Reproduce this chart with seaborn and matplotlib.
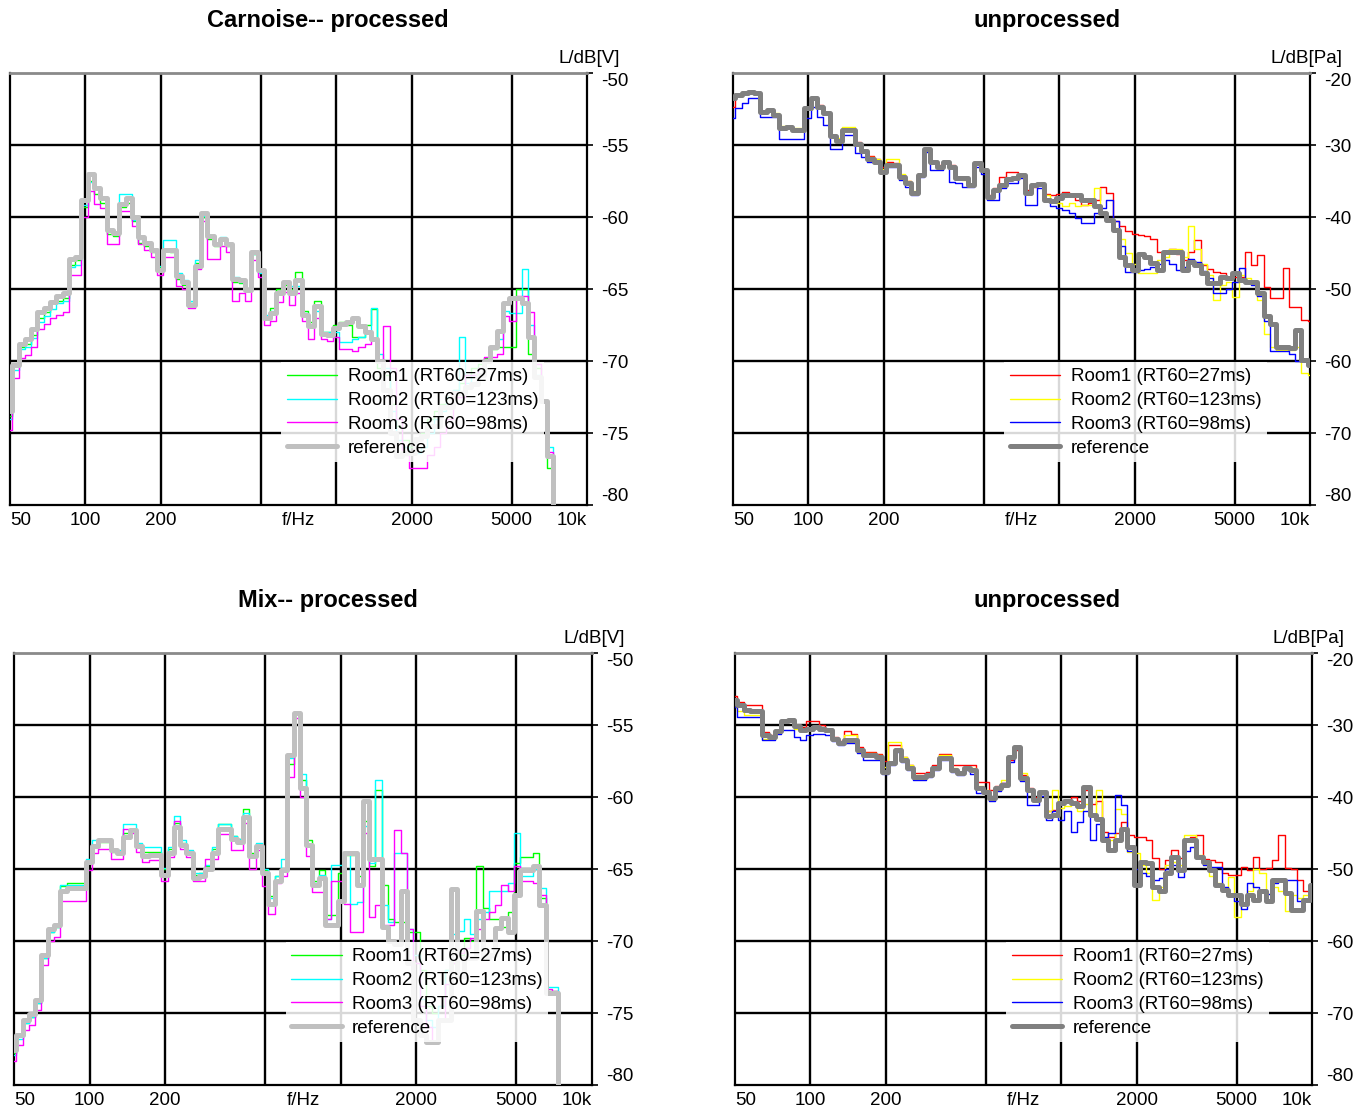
import numpy as np
import matplotlib
matplotlib.use("Agg")
import matplotlib.pyplot as plt
import matplotlib.ticker as mticker
import seaborn as sns

# ---------------------------------------------------------------------------
# 1/12-octave band levels (band k centred at 1000*2**(k/12) Hz, k = -52..40)
# ---------------------------------------------------------------------------
legend_labels = ["Room1 (RT60=27ms)", "Room2 (RT60=123ms)", "Room3 (RT60=98ms)", "reference"]
freq_ticks = [50, 100, 200, 707, 2000, 5000, 10000]
freq_tick_labels = ["50", "100", "200", "f/Hz", "2000", "5000", "10k"]

# Carnoise, processed  [dB re 1 V]
carnoise_proc_ref = [
    -73.5, -70.3, -68.8, -68.5, -67.8, -66.6, -66.3, -65.9, -65.5, -65.3,
    -62.9, -62.8, -58.8, -57.0, -58.0, -58.7, -60.9, -61.1, -59.1, -58.7,
    -60.0, -61.4, -61.8, -62.3, -63.7, -62.3, -62.3, -64.1, -64.5, -66.1,
    -63.4, -59.7, -61.3, -61.9, -61.5, -61.9, -64.3, -64.4, -65.1, -62.4,
    -63.7, -67.0, -66.7, -65.3, -64.5, -65.3, -64.4, -66.8, -67.6, -66.2,
    -68.1, -68.2, -67.7, -67.4, -67.3, -67.0, -67.6, -68.0, -68.5, -70.0,
    -72.0, -75.0, -76.6, -76.4, -76.4, -75.4, -75.2, -74.5, -74.5, -73.2,
    -73.2, -72.2, -72.2, -71.8, -71.6, -71.0, -70.0, -69.0, -67.9, -66.0,
    -65.6, -65.6, -66.0, -68.3, -71.1, -72.8, -76.6, -85.0, -85.0, -85.0,
    -85.0, -85.0, -85.0]
carnoise_proc_room1 = [
    -73.8, -70.3, -69.0, -68.8, -68.2, -67.0, -66.6, -66.0, -65.8, -65.6,
    -63.3, -63.0, -59.3, -57.5, -58.4, -59.0, -61.2, -61.3, -59.3, -59.0,
    -60.3, -61.8, -62.0, -62.4, -63.5, -62.2, -62.4, -64.3, -64.7, -66.0,
    -63.2, -60.0, -61.5, -62.0, -61.6, -62.0, -64.5, -64.6, -65.0, -62.6,
    -63.8, -67.0, -66.3, -65.0, -64.7, -65.0, -63.8, -66.5, -67.3, -65.8,
    -68.0, -68.0, -67.5, -67.3, -67.5, -68.3, -68.3, -67.5, -66.4, -70.5,
    -71.0, -73.0, -74.5, -75.5, -76.0, -75.5, -75.0, -74.0, -73.5, -73.0,
    -72.5, -72.0, -71.5, -71.0, -70.5, -70.2, -69.8, -69.2, -69.0, -69.0,
    -69.0, -65.0, -65.0, -69.5, -70.5, -72.8, -77.4, -85.0, -85.0, -85.0,
    -85.0, -85.0, -85.0]
carnoise_proc_room2 = [
    -74.0, -70.6, -69.2, -69.0, -68.4, -67.3, -66.9, -66.4, -66.0, -65.8,
    -63.5, -63.3, -59.2, -57.6, -58.0, -58.6, -61.0, -61.1, -58.4, -58.4,
    -60.2, -61.5, -61.8, -62.2, -63.4, -61.6, -61.6, -63.9, -64.4, -65.8,
    -63.0, -59.9, -61.4, -61.8, -61.4, -61.8, -64.2, -64.5, -65.0, -62.6,
    -63.9, -66.8, -66.5, -65.3, -64.5, -64.8, -64.8, -66.7, -67.6, -66.5,
    -68.0, -68.0, -68.0, -68.7, -68.7, -68.5, -68.3, -68.0, -66.3, -69.5,
    -70.5, -73.5, -75.5, -76.0, -76.4, -76.4, -76.0, -75.0, -74.0, -73.5,
    -72.5, -72.0, -68.3, -71.5, -71.0, -70.5, -70.0, -69.0, -68.5, -66.5,
    -66.7, -66.7, -63.6, -67.5, -71.0, -72.8, -76.0, -85.0, -85.0, -85.0,
    -85.0, -85.0, -85.0]
carnoise_proc_room3 = [
    -74.8, -71.2, -69.8, -69.6, -69.0, -67.8, -67.4, -67.0, -66.8, -66.6,
    -64.0, -64.0, -60.0, -58.2, -59.1, -59.4, -61.9, -61.9, -59.6, -59.6,
    -60.6, -61.9, -62.3, -62.8, -64.0, -62.8, -62.8, -64.8, -65.0, -66.3,
    -63.6, -60.3, -62.9, -62.9, -62.0, -62.4, -65.8, -65.3, -65.8, -63.0,
    -64.2, -67.5, -67.2, -65.9, -65.2, -66.1, -65.3, -67.2, -68.5, -67.0,
    -68.5, -68.6, -68.3, -69.2, -69.2, -69.3, -69.0, -68.8, -68.5, -70.0,
    -67.6, -70.5, -74.0, -76.5, -77.4, -77.4, -77.4, -76.5, -76.0, -75.0,
    -74.0, -72.5, -72.5, -71.0, -71.0, -70.5, -69.7, -69.7, -69.5, -66.9,
    -67.2, -65.5, -65.5, -66.6, -70.2, -72.8, -76.3, -85.0, -85.0, -85.0,
    -85.0, -85.0, -85.0]

# Carnoise, unprocessed  [dB re 1 Pa]
carnoise_raw_ref = [
    -23.5, -23.1, -22.8, -22.6, -22.8, -25.4, -25.1, -25.8, -27.7, -27.5,
    -27.9, -27.9, -24.9, -23.5, -24.7, -25.6, -28.8, -29.5, -27.9, -27.9,
    -29.8, -30.9, -31.9, -32.3, -33.7, -32.8, -32.8, -34.4, -35.3, -36.7,
    -34.2, -30.5, -32.3, -33.0, -32.3, -33.0, -34.6, -34.6, -35.6, -32.5,
    -33.5, -37.2, -36.3, -35.5, -34.7, -34.6, -34.2, -36.7, -35.6, -35.4,
    -37.6, -37.8, -37.3, -37.0, -37.0, -37.0, -37.6, -37.6, -38.5, -39.5,
    -40.4, -41.8, -45.5, -46.7, -47.4, -45.1, -45.5, -46.4, -47.4, -44.8,
    -44.8, -44.8, -47.4, -46.2, -46.7, -47.8, -49.2, -49.2, -48.3, -48.5,
    -47.8, -48.7, -49.0, -49.0, -50.6, -53.8, -54.8, -58.0, -58.0, -58.2,
    -55.7, -59.9, -60.5]
carnoise_raw_room1 = [
    -24.7, -23.1, -22.6, -22.6, -22.8, -25.3, -25.0, -25.8, -27.5, -27.3,
    -27.8, -27.8, -24.9, -23.5, -24.5, -25.5, -28.6, -29.3, -27.6, -27.6,
    -29.6, -30.7, -31.5, -32.0, -33.0, -32.3, -32.5, -34.2, -35.0, -36.5,
    -34.0, -30.5, -32.3, -32.8, -32.2, -32.8, -34.4, -34.6, -35.4, -32.4,
    -33.3, -37.0, -36.0, -34.5, -33.7, -33.8, -34.0, -36.3, -35.8, -35.3,
    -36.8, -37.0, -36.8, -36.5, -37.0, -37.6, -38.3, -38.0, -37.6, -35.8,
    -36.7, -40.5, -41.3, -42.0, -42.3, -42.5, -42.7, -43.0, -44.8, -44.8,
    -44.5, -45.2, -46.0, -44.8, -43.2, -46.6, -47.2, -47.6, -47.8, -48.3,
    -48.3, -48.3, -44.8, -46.6, -45.3, -49.7, -51.3, -51.3, -47.1, -52.5,
    -52.5, -54.3, -54.5]
carnoise_raw_room2 = [
    -23.5, -23.0, -22.8, -22.6, -22.8, -25.4, -25.0, -25.6, -27.4, -27.3,
    -27.6, -27.6, -24.9, -23.6, -24.8, -25.6, -28.6, -29.0, -27.5, -27.5,
    -29.8, -30.8, -31.6, -32.0, -33.4, -31.9, -31.9, -34.0, -35.0, -36.4,
    -34.0, -30.8, -32.3, -33.0, -32.3, -33.0, -34.7, -34.8, -35.4, -32.6,
    -33.5, -37.2, -36.2, -35.5, -34.6, -34.4, -34.3, -36.7, -35.7, -35.6,
    -37.0, -37.8, -38.0, -38.5, -38.0, -38.5, -38.3, -38.3, -36.0, -39.5,
    -40.4, -41.5, -43.0, -45.0, -46.5, -47.8, -47.8, -47.8, -46.0, -45.5,
    -44.4, -44.4, -45.5, -41.3, -44.5, -46.5, -48.0, -51.5, -49.5, -49.0,
    -51.1, -48.0, -48.5, -49.0, -51.5, -56.2, -58.0, -58.5, -58.5, -58.5,
    -58.0, -61.6, -62.0]
carnoise_raw_room3 = [
    -26.3, -24.9, -24.2, -23.5, -23.5, -26.1, -26.1, -26.1, -29.2, -29.2,
    -29.2, -29.2, -26.3, -24.7, -26.1, -27.2, -30.5, -30.5, -28.6, -28.6,
    -31.1, -31.6, -32.3, -32.5, -33.7, -33.0, -33.0, -34.9, -35.8, -36.9,
    -34.4, -31.0, -33.5, -33.5, -32.5, -35.1, -35.3, -35.8, -35.8, -33.0,
    -34.0, -37.6, -37.6, -36.0, -35.3, -35.3, -34.6, -38.3, -38.3, -36.0,
    -37.8, -38.5, -38.8, -39.0, -39.5, -40.2, -40.9, -40.9, -39.5, -38.8,
    -37.6, -40.5, -44.0, -47.6, -47.6, -47.4, -47.2, -47.0, -46.5, -46.0,
    -46.5, -47.4, -47.0, -45.8, -46.3, -47.5, -48.5, -50.6, -50.6, -50.0,
    -49.0, -47.1, -49.0, -49.5, -51.0, -54.5, -58.6, -58.6, -58.6, -59.0,
    -60.0, -60.0, -60.5]

# Mix, processed  [dB re 1 V]
mix_proc_ref = [
    -77.6, -76.5, -75.5, -75.1, -74.1, -71.0, -69.2, -68.9, -66.5, -66.3,
    -66.3, -66.3, -64.5, -63.4, -63.0, -63.0, -63.7, -63.9, -62.8, -62.3,
    -63.4, -64.1, -64.0, -64.0, -65.4, -63.9, -62.1, -63.3, -63.9, -65.6,
    -65.5, -65.0, -63.9, -62.2, -62.2, -62.9, -63.1, -61.4, -64.1, -63.4,
    -65.3, -67.4, -65.8, -65.1, -57.1, -54.2, -59.4, -63.3, -66.1, -65.6,
    -68.9, -68.9, -67.2, -63.9, -63.9, -66.1, -60.3, -64.3, -64.3, -69.0,
    -70.0, -70.2, -66.5, -71.5, -75.5, -76.5, -77.0, -77.0, -75.5, -75.5,
    -66.4, -72.4, -71.2, -71.2, -67.9, -71.2, -71.0, -69.1, -68.4, -69.4,
    -66.8, -65.1, -65.1, -64.8, -67.5, -73.6, -73.6, -85.0, -85.0, -85.0,
    -85.0, -85.0, -85.0]
mix_proc_room1 = [
    -77.8, -76.6, -75.7, -75.3, -74.3, -71.2, -69.4, -69.0, -66.2, -66.0,
    -66.0, -66.0, -64.6, -63.3, -63.1, -63.1, -63.8, -63.9, -62.5, -62.2,
    -63.4, -63.8, -63.8, -63.8, -65.0, -63.6, -61.8, -63.2, -63.8, -65.4,
    -65.3, -64.8, -63.6, -61.9, -61.9, -62.7, -62.9, -60.8, -63.9, -63.3,
    -65.1, -66.9, -65.5, -65.0, -57.7, -54.2, -58.8, -63.0, -65.8, -65.1,
    -68.2, -68.2, -65.3, -64.0, -64.0, -65.5, -61.7, -64.8, -59.5, -66.1,
    -68.5, -68.7, -68.7, -69.4, -69.4, -72.0, -74.5, -75.0, -74.5, -72.0,
    -71.5, -71.0, -69.8, -70.0, -64.8, -67.7, -68.5, -68.5, -69.0, -68.0,
    -64.6, -64.2, -64.2, -63.9, -67.0, -73.5, -73.5, -85.0, -85.0, -85.0,
    -85.0, -85.0, -85.0]
mix_proc_room2 = [
    -77.9, -76.8, -75.7, -75.3, -74.3, -71.2, -69.4, -69.0, -66.1, -66.1,
    -66.1, -66.1, -64.3, -63.0, -63.0, -63.0, -63.7, -63.7, -61.9, -61.9,
    -63.2, -63.5, -63.5, -63.5, -64.9, -63.5, -61.3, -63.0, -63.7, -65.3,
    -65.3, -64.7, -63.5, -61.9, -61.9, -62.7, -62.9, -61.1, -64.0, -63.2,
    -65.0, -67.0, -65.5, -64.3, -57.3, -54.2, -58.4, -63.3, -66.0, -65.4,
    -68.5, -64.7, -64.7, -63.9, -67.4, -67.3, -62.0, -64.6, -58.8, -67.5,
    -68.7, -63.9, -63.9, -69.2, -71.0, -74.0, -75.5, -76.0, -74.5, -72.0,
    -69.5, -69.3, -68.5, -69.5, -68.5, -68.0, -66.5, -66.5, -66.5, -66.0,
    -62.5, -65.5, -65.5, -65.0, -66.3, -73.2, -73.2, -85.0, -85.0, -85.0,
    -85.0, -85.0, -85.0]
mix_proc_room3 = [
    -78.3, -77.2, -76.2, -75.8, -74.8, -71.7, -70.0, -69.7, -67.2, -67.2,
    -67.2, -67.2, -65.1, -63.9, -63.6, -63.6, -64.3, -64.3, -62.2, -62.5,
    -63.8, -64.5, -64.4, -64.4, -65.8, -64.2, -61.7, -63.6, -64.2, -65.8,
    -65.8, -64.3, -64.3, -62.6, -62.6, -63.7, -63.7, -61.8, -65.0, -63.7,
    -66.2, -68.1, -66.0, -65.5, -58.6, -54.5, -60.0, -64.1, -66.6, -66.6,
    -68.5, -65.8, -65.8, -67.4, -69.4, -69.4, -62.5, -68.3, -67.5, -68.9,
    -68.9, -62.3, -63.9, -69.2, -71.5, -74.5, -76.0, -77.0, -75.5, -73.0,
    -71.5, -70.8, -70.5, -69.8, -69.2, -68.5, -68.0, -67.5, -66.1, -66.5,
    -64.8, -65.8, -65.8, -66.0, -66.8, -73.3, -73.5, -85.0, -85.0, -85.0,
    -85.0, -85.0, -85.0]

# Mix, unprocessed  [dB re 1 Pa]
mix_raw_ref = [
    -26.5, -27.2, -27.9, -28.1, -28.1, -31.4, -31.6, -30.9, -29.5, -29.3,
    -30.2, -30.7, -30.5, -30.3, -30.5, -30.7, -31.9, -32.5, -32.1, -32.1,
    -33.5, -34.2, -34.2, -34.4, -36.5, -35.3, -33.5, -34.9, -36.0, -37.2,
    -37.2, -36.9, -36.0, -34.6, -34.6, -36.3, -36.7, -36.0, -36.3, -38.8,
    -39.3, -40.2, -38.8, -38.3, -34.4, -33.0, -37.4, -39.0, -40.4, -39.3,
    -42.7, -42.5, -40.9, -40.6, -40.9, -41.3, -38.6, -42.5, -43.0, -46.0,
    -47.4, -46.0, -44.4, -46.9, -52.2, -49.0, -49.2, -52.5, -53.1, -50.6,
    -48.3, -50.1, -46.0, -46.0, -48.3, -49.0, -50.1, -52.2, -52.9, -53.6,
    -53.6, -54.8, -53.6, -54.3, -53.1, -54.5, -51.5, -51.5, -53.4, -55.7,
    -55.7, -54.3, -52.2]
mix_raw_room1 = [
    -26.0, -26.8, -27.2, -27.2, -27.2, -31.0, -31.4, -30.7, -29.4, -29.3,
    -30.0, -30.3, -29.5, -29.5, -30.0, -30.5, -31.6, -32.2, -30.9, -31.2,
    -33.0, -33.8, -33.8, -34.0, -35.0, -32.8, -32.8, -34.5, -35.5, -36.7,
    -36.7, -36.5, -35.5, -34.0, -34.0, -35.6, -35.6, -35.6, -35.6, -37.9,
    -37.9, -39.0, -38.5, -38.0, -34.8, -33.5, -37.0, -38.8, -40.0, -39.5,
    -42.0, -41.8, -41.0, -40.5, -40.0, -40.5, -39.0, -41.0, -40.5, -44.8,
    -45.5, -45.0, -43.5, -45.3, -45.5, -45.5, -46.0, -48.5, -50.0, -48.8,
    -47.4, -48.5, -46.0, -45.5, -45.3, -48.6, -48.8, -49.0, -50.5, -50.8,
    -50.8, -49.7, -50.2, -48.3, -50.0, -49.9, -48.8, -45.3, -49.9, -50.0,
    -51.5, -53.0, -53.0]
mix_raw_room2 = [
    -27.0, -28.0, -28.6, -28.6, -28.6, -31.9, -31.9, -31.0, -29.5, -29.5,
    -30.5, -30.8, -30.5, -30.3, -30.5, -30.7, -31.9, -32.3, -31.4, -31.4,
    -33.5, -33.9, -33.9, -34.2, -35.8, -32.3, -32.3, -34.4, -35.5, -37.0,
    -37.2, -36.8, -35.8, -34.2, -34.2, -36.0, -36.5, -36.0, -36.0, -38.5,
    -39.0, -40.0, -38.8, -37.6, -34.4, -33.3, -36.7, -39.0, -40.5, -39.5,
    -42.0, -39.0, -41.5, -41.3, -41.0, -42.0, -41.0, -42.5, -39.0, -45.5,
    -46.0, -41.6, -42.3, -47.6, -47.8, -49.5, -50.5, -54.3, -52.5, -49.5,
    -49.0, -49.5, -45.3, -45.3, -48.0, -49.5, -51.0, -52.0, -53.0, -51.1,
    -56.6, -55.0, -53.0, -50.0, -50.5, -53.5, -52.5, -53.0, -55.8, -53.6,
    -54.0, -53.6, -53.6]
mix_raw_room3 = [
    -27.5, -28.9, -28.9, -28.9, -28.9, -32.1, -32.1, -31.2, -30.7, -30.7,
    -31.6, -32.1, -31.4, -31.2, -31.2, -31.4, -32.2, -32.8, -32.5, -32.5,
    -33.9, -34.9, -34.9, -34.9, -36.8, -35.6, -33.8, -35.2, -36.3, -37.6,
    -37.6, -37.2, -36.3, -34.9, -34.9, -36.5, -37.0, -36.3, -36.8, -39.5,
    -39.5, -40.6, -39.2, -38.0, -35.1, -33.3, -37.8, -41.1, -41.1, -39.8,
    -43.2, -42.0, -43.2, -42.0, -44.8, -43.5, -42.0, -46.0, -43.8, -45.5,
    -45.0, -39.7, -41.1, -47.5, -50.0, -50.5, -51.0, -51.5, -51.3, -50.0,
    -49.5, -51.1, -47.5, -47.0, -48.5, -49.5, -49.7, -49.7, -52.5, -53.5,
    -54.5, -55.5, -52.0, -52.5, -53.0, -53.5, -52.0, -51.5, -51.5, -51.5,
    -54.5, -54.5, -53.8]

# ---------------------------------------------------------------------------
# band edges
band_k = np.arange(-52, 41)
band_centres = 1000.0 * 2.0 ** (band_k / 12.0)
band_lower = band_centres * 2.0 ** (-1.0 / 24.0)
band_upper = band_centres * 2.0 ** (1.0 / 24.0)

sns.set_style("white")
plt.rcParams["font.family"] = ["Liberation Sans", "DejaVu Sans"]
plt.rcParams["text.color"] = "black"
plt.rcParams["axes.labelcolor"] = "black"
plt.rcParams["xtick.color"] = "black"
plt.rcParams["ytick.color"] = "black"

W, H = 1367, 1113
fig = plt.figure(figsize=(W / 100, H / 100), dpi=100)


def box(left, right, top, bottom):
    return [left / W, 1 - bottom / H, (right - left) / W, (bottom - top) / H]


def step_line(ax, values, colour, width, z):
    n = len(values)
    x = np.append(band_lower[:n], band_upper[n - 1])
    y = np.append(values, values[-1])
    sns.lineplot(x=x, y=y, drawstyle="steps-post", color=colour, linewidth=width,
                 estimator=None, sort=False, legend=False, ax=ax, zorder=z)
    return ax.lines[-1]


def panel(rect, rooms, ref, colours, ref_colour, ylim, ystep, unit):
    ax = fig.add_axes(rect)
    ax.set_xscale("log")
    ax.set_xlim(50, 10000)
    ax.set_ylim(*ylim)

    for f in [100, 200, 500, 1000, 2000, 5000]:
        ax.axvline(f, color="black", linewidth=1.7, zorder=1)
    yt = np.arange(ylim[0], ylim[1] + 0.1, ystep)
    for y in yt[1:-1]:
        ax.axhline(y, color="black", linewidth=1.7, zorder=1)

    handles = []
    for vals, col in zip(rooms, colours):
        handles.append(step_line(ax, vals, col, 1.0, 3))
    handles.append(step_line(ax, ref, ref_colour, 3.6, 4))

    ax.set_xlabel("")
    ax.set_ylabel("")

    # y axis on the right
    ax.yaxis.tick_right()
    ax.set_yticks(yt)
    ax.set_yticklabels([f"{int(v)}" for v in yt])
    ax.tick_params(axis="y", which="major", direction="out", length=4, width=1.2,
                   pad=6, labelsize=13.5, colors="black")
    ylabels = ax.get_yticklabels()
    ylabels[0].set_va("bottom")
    ylabels[-1].set_va("top")

    # x axis
    ax.set_xticks(freq_ticks)
    ax.set_xticklabels(freq_tick_labels)
    ax.xaxis.set_minor_locator(mticker.FixedLocator([1000]))
    ax.xaxis.set_minor_formatter(mticker.NullFormatter())
    ax.tick_params(axis="x", which="major", length=0, pad=5, labelsize=13.5, colors="black")
    ax.tick_params(axis="x", which="minor", length=5, width=1.5, direction="out")
    xlabels = ax.get_xticklabels()
    xlabels[0].set_ha("left")
    xlabels[-1].set_ha("right")

    for side in ["left", "right", "bottom"]:
        ax.spines[side].set_color("black")
        ax.spines[side].set_linewidth(1.6)
    ax.spines["top"].set_color("#8a8a8a")
    ax.spines["top"].set_linewidth(2.0)

    ax.annotate(unit, xy=(1, 1), xycoords="axes fraction", xytext=(33, 6),
                textcoords="offset pixels", ha="right", va="bottom", fontsize=13.5)

    leg = ax.legend(handles, legend_labels, loc="upper left", bbox_to_anchor=(0.47, 0.330),
                    borderaxespad=0, frameon=True, fancybox=False, framealpha=0.85,
                    edgecolor="none", facecolor="white", fontsize=13.5, handlelength=2.7,
                    handletextpad=0.55, labelspacing=0.36, borderpad=0.3)
    leg.set_zorder(5)
    return ax


proc_colours = ["#00ff00", "#00ffff", "#ff00ff"]
raw_colours = ["#ff0000", "#ffff00", "#0000ff"]

panel(box(10, 587, 73, 505),
      [carnoise_proc_room1, carnoise_proc_room2, carnoise_proc_room3], carnoise_proc_ref,
      proc_colours, "#c0c0c0", (-80, -50), 5, "L/dB[V]")
panel(box(733, 1310, 73, 505),
      [carnoise_raw_room1, carnoise_raw_room2, carnoise_raw_room3], carnoise_raw_ref,
      raw_colours, "#808080", (-80, -20), 10, "L/dB[Pa]")
panel(box(14, 592, 653, 1085),
      [mix_proc_room1, mix_proc_room2, mix_proc_room3], mix_proc_ref,
      proc_colours, "#c0c0c0", (-80, -50), 5, "L/dB[V]")
panel(box(735, 1312, 653, 1085),
      [mix_raw_room1, mix_raw_room2, mix_raw_room3], mix_raw_ref,
      raw_colours, "#808080", (-80, -20), 10, "L/dB[Pa]")

title_kw = dict(ha="center", va="center", fontsize=17, fontweight="bold")
fig.text(328 / W, 1 - 20 / H, "Carnoise-- processed", **title_kw)
fig.text(1047 / W, 1 - 20 / H, "unprocessed", **title_kw)
fig.text(328 / W, 1 - 600 / H, "Mix-- processed", **title_kw)
fig.text(1047 / W, 1 - 600 / H, "unprocessed", **title_kw)

fig.savefig("out.png", dpi=100)
